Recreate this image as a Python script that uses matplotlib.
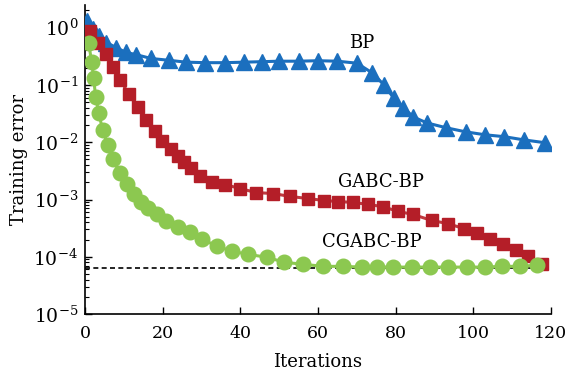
import matplotlib
matplotlib.use("Agg")
import matplotlib.pyplot as plt
import numpy as np

# ---- data (iteration, training error) ----
bp_iter = [0.5, 2, 3.5, 5.5, 8, 10.5, 13, 17, 21.5, 26, 31, 36, 41, 45.5, 50, 55, 60, 65,
           70, 74, 77, 79.5, 82, 84.5, 88, 93, 98, 103, 108, 113, 118.5]
bp_err = [1.3, 0.95, 0.72, 0.55, 0.45, 0.37, 0.34, 0.29, 0.27, 0.25, 0.245, 0.245, 0.25,
          0.255, 0.26, 0.26, 0.265, 0.26, 0.24, 0.162, 0.10, 0.059, 0.040, 0.0277, 0.0218,
          0.0179, 0.0152, 0.0135, 0.0125, 0.0110, 0.0098]

gabc_iter = [1.2, 3.2, 5.3, 7.3, 9.1, 11.2, 13.5, 15.6, 17.9, 19.9, 22, 23.8, 25.6, 27.4,
             29.7, 32.8, 36.1, 40, 44.1, 48.5, 52.8, 57.4, 61.6, 65.2, 69, 72.9, 76.7,
             80.6, 84.4, 89.3, 93.4, 97.6, 100.9, 104.3, 107.6, 111, 114, 117.6]
gabc_err = [0.87, 0.54, 0.346, 0.206, 0.122, 0.0697, 0.0414, 0.0246, 0.0158, 0.0106,
            0.0077, 0.0058, 0.00458, 0.0036, 0.00261, 0.00206, 0.00182, 0.00155, 0.00132,
            0.00127, 0.00113, 0.00104, 0.00096, 0.00092, 0.00089, 0.00082, 0.00075,
            0.00062, 0.00055, 0.00043, 0.00038, 0.00031, 0.000256, 0.000201, 0.000165,
            0.00013, 0.000102, 0.000074]

cgabc_iter = [0.9, 1.7, 2.2, 2.7, 3.5, 4.5, 5.8, 7.1, 8.9, 10.7, 12.5, 14.5, 16.3, 18.4,
              20.9, 23.8, 26.9, 30.2, 34.1, 37.9, 42, 46.9, 51.3, 56.2, 61.3, 66.4, 71.3,
              75.2, 79.3, 84.2, 88.8, 93.5, 98.3, 103, 107.3, 112, 116.3]
cgabc_err = [0.54, 0.25, 0.132, 0.062, 0.0326, 0.0165, 0.0091, 0.0050, 0.00295, 0.0019,
             0.00127, 0.00089, 0.0007, 0.00055, 0.000414, 0.000326, 0.000267, 0.000201,
             0.000152, 0.000125, 0.00011, 0.000098, 0.000080, 0.000074, 0.000068, 0.000068,
             0.000066, 0.000066, 0.000066, 0.000066, 0.000066, 0.000066, 0.000066,
             0.000066, 0.000068, 0.000068, 0.000071]

goal_err = 6.3e-5
goal_iter = [0, 117]

xticks = [0, 20, 40, 60, 80, 100, 120]
yticks = [1e-5, 1e-4, 1e-3, 1e-2, 1e-1, 1e0]

plt.rcParams['font.family'] = ['DejaVu Serif']
plt.rcParams['mathtext.fontset'] = 'dejavuserif'

fig = plt.figure(figsize=(5.83, 3.77), dpi=100)
ax = fig.add_axes([0.146, 0.167, 0.799, 0.82])

blue = '#1b6fbe'
red = '#b41e28'
green = '#8cc850'

ax.plot(goal_iter, [goal_err, goal_err], ls=(0, (3, 2)), color='black', lw=1.2, zorder=1)
ax.plot(bp_iter, bp_err, color=blue, lw=2.2, marker='^', ms=11.5, mec=blue, mfc=blue, zorder=3)
ax.plot(gabc_iter, gabc_err, color='#c0393f', lw=2.2, marker='s', ms=8.5, mec=red, mfc=red, zorder=3)
ax.plot(cgabc_iter, cgabc_err, color=green, lw=2.2, marker='o', ms=10.5, mec=green, mfc=green, zorder=4)

ax.set_yscale('log')
ax.set_xlim(0, 120)
ax.set_ylim(1e-5, 2.5)
ax.set_xticks(xticks)
ax.set_xticklabels([str(t) for t in xticks])
ax.set_yticks(yticks)
ax.set_yticklabels([r'$10^{%d}$' % int(np.log10(t)) for t in yticks])
ax.yaxis.set_minor_locator(matplotlib.ticker.LogLocator(base=10, subs=np.arange(2, 10)))
ax.yaxis.set_minor_formatter(matplotlib.ticker.NullFormatter())
ax.tick_params(axis='both', which='major', direction='in', length=5, width=1)
ax.tick_params(axis='x', which='major', labelsize=12.5, pad=8)
ax.tick_params(axis='y', which='major', labelsize=13.5, pad=5)
ax.tick_params(axis='y', which='minor', direction='in', length=3, width=0.8)
ax.spines['top'].set_visible(False)
ax.spines['right'].set_visible(False)
ax.spines['left'].set_linewidth(1.2)
ax.spines['bottom'].set_linewidth(1.2)

ax.set_xlabel('Iterations', fontsize=13, labelpad=8)
ax.set_ylabel('Training error', fontsize=13, labelpad=4)

ax.text(71.3, 0.54, 'BP', fontsize=13, ha='center', va='center')
ax.text(76.2, 2.06e-3, 'GABC-BP', fontsize=13, ha='center', va='center')
ax.text(73.9, 1.79e-4, 'CGABC-BP', fontsize=13, ha='center', va='center')

fig.savefig('out.png', dpi=100)
